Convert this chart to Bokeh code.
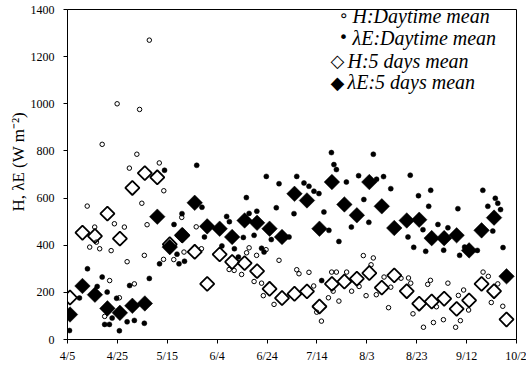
import math
from bokeh.plotting import figure
from bokeh.models import Range1d, FixedTicker, Label
from bokeh.embed import file_html
from bokeh.resources import INLINE

# x values are days counted from 4/5
tick_days = [0, 20, 40, 60, 80, 100, 120, 140, 160, 180]
tick_labels = ["4/5", "4/25", "5/15", "6/4", "6/24", "7/14", "8/3", "8/23", "9/12", "10/2"]
y_ticks = [0, 200, 400, 600, 800, 1000, 1200, 1400]

# H : daytime mean (open circles)
h_day = [7.9, 8.9, 10.9, 11.6, 12.9, 13.9, 14.9, 16.9, 17.5, 18.8, 19.9, 20.8, 22.8, 23.9,
         24.8, 26.8, 27.8, 28.9, 29.8, 30.8, 31.9, 32.8, 36.8, 38.5, 38.6, 42.6, 45.8, 46.7,
         51.6, 53.7, 64.8, 66.8, 69.8, 71.8, 72.8, 74.8, 75.8, 77.8, 78.5, 79.6, 82.8, 84.8,
         91.9, 92.8, 96.8, 98.7, 99.9, 101.8, 104.6, 105.9, 106.5, 107.8, 108.8, 111.9,
         113.9, 116.9, 118.6, 119.7, 121.7, 122.6, 123.8, 126.9, 128.7, 129.6, 133.7, 136.7,
         137.6, 138.5, 142.7, 144.4, 145.5, 146.7, 147.9, 150.7, 152.5, 155.6, 156.7, 157.5,
         158.8, 160.8, 166.6, 168.7, 169.9, 172.5, 174.5]
h_val = [566, 392, 477, 413, 385, 828, 98, 250, 377, 491, 1000, 177, 477, 330,
         727, 236, 786, 976, 578, 357, 487, 1270, 749, 340, 631, 339, 518, 371,
         478, 385, 297, 293, 276, 368, 389, 246, 357, 239, 186, 381, 149, 336,
         296, 279, 285, 227, 116, 78, 177, 286, 205, 286, 163, 286,
         205, 225, 356, 186, 317, 346, 190, 265, 135, 222, 260, 261,
         239, 109, 52, 234, 251, 72, 139, 84, 239, 52, 187, 80,
         210, 125, 286, 268, 157, 236, 141]

# lambda E : daytime mean (filled circles)
le_day = [0.8, 4.8, 8.0, 11.9, 13.9, 14.9, 15.9, 16.8, 17.9, 19.7, 20.8, 23.9, 24.9, 26.8,
          30.8, 32.8, 36.9, 38.9, 42.7, 43.9, 44.7, 45.9, 46.9, 51.8, 53.9, 54.9, 61.9,
          63.8, 64.9, 66.9, 68.5, 70.5, 71.7, 72.8, 74.8, 75.9, 77.8, 78.8, 79.7, 81.7,
          83.7, 84.8, 88.8, 90.8, 91.9, 94.8, 96.8, 98.8, 100.8, 101.9, 102.8, 104.8,
          105.8, 106.8, 107.8, 108.8, 111.8, 113.8, 116.7, 118.8, 120.8, 122.6, 123.9,
          126.7, 129.6, 136.5, 137.4, 138.8, 140.7, 142.5, 143.6, 144.8, 145.6, 148.5,
          150.8, 152.5, 156.5, 157.2, 159.2, 164.3, 166.5, 168.5, 170.5, 171.5, 172.5,
          173.6, 174.6]
le_val = [38, 176, 300, 225, 265, 64, 201, 64, 91, 175, 37, 75, 229, 81,
          69, 259, 321, 718, 488, 362, 321, 534, 332, 739, 561, 435, 397,
          522, 500, 385, 350, 433, 602, 535, 442, 544, 387, 371, 692, 424,
          559, 661, 435, 534, 692, 664, 650, 629, 619, 250, 541, 463,
          793, 742, 721, 416, 668, 477, 695, 594, 497, 786, 680,
          691, 640, 435, 697, 391, 610, 466, 374, 565, 633, 488,
          379, 474, 555, 357, 392, 378, 633, 565, 460, 599, 578,
          551, 390]

# 5 days means (diamonds)
mean_day = [1, 6, 11, 16, 21, 26, 31, 36, 41, 46, 51, 56, 61, 66, 71, 76, 81, 86,
            91, 96, 101, 106, 111, 116, 121, 126, 131, 136, 141, 146, 151, 156, 161, 166, 171, 176]
h5_val = [178, 453, 439, 534, 428, 643, 706, 688, 404, 442, 372, 236, 361, 329, 324, 290, 215, 176,
          194, 204, 140, 236, 246, 258, 282, 220, 272, 205, 152, 161, 173, 130, 166, 236, 205, 85]
le5_val = [106, 227, 190, 132, 113, 143, 153, 521, 392, 442, 580, 480, 470, 435, 505, 495, 470, 435,
           618, 590, 470, 668, 573, 527, 668, 565, 473, 505, 508, 430, 430, 442, 378, 463, 517, 268]

y_title = "\u2002\u2002\u2002H, λE (W m⁻²)"

X0, X1, Y0, Y1 = 0, 180, 0, 1400
L, T, FW, FH = 67, 9, 449, 330

p = figure(frame_width=FW, frame_height=FH, min_border_left=L, min_border_right=10,
           min_border_top=T, min_border_bottom=28,
           x_range=Range1d(X0, X1), y_range=Range1d(Y0, Y1),
           output_backend="svg", toolbar_location=None,
           background_fill_color="white", border_fill_color="white")
p.grid.visible = False
p.outline_line_color = "black"
p.outline_line_width = 1

p.xaxis.ticker = FixedTicker(ticks=tick_days)
p.xaxis.major_label_overrides = {d: s for d, s in zip(tick_days, tick_labels)}
p.yaxis.ticker = FixedTicker(ticks=y_ticks)
for ax in (p.xaxis, p.yaxis):
    ax.axis_line_color = "black"
    ax.axis_line_width = 1
    ax.major_tick_line_color = "black"
    ax.major_tick_out = 4
    ax.major_tick_in = 0
    ax.minor_tick_out = 0
    ax.minor_tick_in = 0
    ax.major_label_text_font = "Liberation Serif"
    ax.major_label_text_font_size = "12px"
    ax.major_label_text_color = "black"
p.xaxis.major_label_standoff = 5
p.yaxis.major_label_standoff = 9
p.yaxis.axis_label = y_title
p.yaxis.axis_label_text_font = "Liberation Serif"
p.yaxis.axis_label_text_font_size = "17px"
p.yaxis.axis_label_text_font_style = "normal"
p.yaxis.axis_label_text_color = "black"
p.yaxis.axis_label_standoff = 0

p.scatter(h_day, h_val, marker="circle", size=4.5, fill_color=None,
          line_color="black", line_width=1)
p.scatter(le_day, le_val, marker="circle", size=5, fill_color="black",
          line_color="black", line_width=0.5)
p.scatter(mean_day, le5_val, marker="square", angle=math.pi / 4, size=11,
          fill_color="black", line_color="black", line_width=0.5)
p.scatter(mean_day, h5_val, marker="square", angle=math.pi / 4, size=10,
          fill_color=None, line_color="black", line_width=1.8)


def dx(px):
    return X0 + (px - L) / FW * (X1 - X0)


def dy(py):
    return Y0 + (T + FH - py) / FH * (Y1 - Y0)


# legend (symbol + italic text, as in the original)
legend_rows = [
    ("∘", 343, 15, "16px", "H:Daytime mean", 352),
    ("•", 343, 37.3, "16px", "λE:Daytime mean", 352),
    ("◇", 337, 60, "18px", "H:5 days mean", 347),
    ("◆", 337, 81.7, "18px", "λE:5 days mean", 347),
]
for sym, sx, sy, sfs, txt, tx in legend_rows:
    p.add_layout(Label(x=dx(sx), y=dy(sy), text=sym, text_font="DejaVu Sans",
                       text_font_size=sfs, text_align="center", text_baseline="middle",
                       text_color="black"))
    p.add_layout(Label(x=dx(tx), y=dy(sy), text=txt, text_font="Liberation Serif",
                       text_font_size="20px", text_font_style="italic",
                       text_align="left", text_baseline="middle", text_color="black"))

open("out.html", "w").write(file_html(p, INLINE))
